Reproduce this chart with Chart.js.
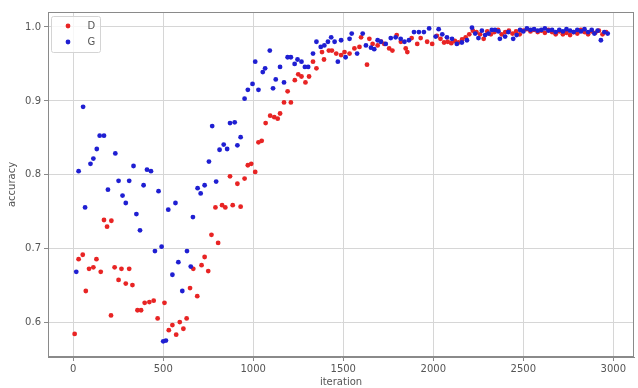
<!DOCTYPE html>
<html>
<head>
<meta charset="utf-8">
<script src="https://cdn.jsdelivr.net/npm/chart.js@4"></script>
<style>
  html, body { margin: 0; padding: 0; background: #fff; }
  #chart { display: block; }
</style>
</head>
<body>
<canvas id="chart" width="638" height="388"></canvas>
<script>
const xTicks = [0, 500, 1000, 1500, 2000, 2500, 3000];
const yTicks = [0.6, 0.7, 0.8, 0.9, 1.0];

// D (red) — iteration / accuracy
const dIter = [8, 30, 53, 70, 88, 112, 129, 153, 171, 188, 210, 212, 230, 252, 268, 292, 311, 329, 357, 377,
  397, 423, 447, 469, 507, 531, 551, 572, 592, 612, 630, 649, 667, 689, 713, 730, 750, 768, 790, 805,
  827, 845, 871, 886, 912, 930, 952, 970, 989, 1011, 1029, 1047, 1069, 1094, 1117, 1136, 1149, 1171, 1191, 1209,
  1231, 1250, 1268, 1290, 1310, 1332, 1351, 1382, 1393, 1420, 1437, 1461, 1488, 1507, 1535, 1562, 1590, 1599, 1632, 1645,
  1663, 1691, 1710, 1728, 1755, 1773, 1797, 1820, 1847, 1856, 1880, 1911, 1930, 1966, 1994, 2020, 2040, 2060, 2080, 2100,
  2120, 2140, 2160, 2180, 2200, 2220, 2240, 2260, 2280, 2300, 2320, 2340, 2360, 2380, 2400, 2420, 2440, 2460, 2480, 2500,
  2520, 2540, 2560, 2580, 2600, 2620, 2640, 2660, 2680, 2700, 2720, 2740, 2760, 2780, 2800, 2820, 2840, 2860, 2880, 2900,
  2920, 2940, 2960];
const dAcc = [0.585, 0.686, 0.692, 0.643, 0.673, 0.675, 0.686, 0.669, 0.739, 0.730, 0.610, 0.738, 0.675, 0.658, 0.673, 0.653, 0.673, 0.651, 0.617, 0.617,
  0.627, 0.628, 0.630, 0.606, 0.627, 0.590, 0.597, 0.584, 0.601, 0.592, 0.606, 0.647, 0.673, 0.636, 0.678, 0.689, 0.670, 0.719, 0.756, 0.708,
  0.759, 0.756, 0.798, 0.759, 0.788, 0.757, 0.795, 0.813, 0.815, 0.804, 0.844, 0.846, 0.870, 0.880, 0.878, 0.876, 0.883, 0.898, 0.913, 0.898,
  0.928, 0.936, 0.933, 0.925, 0.933, 0.953, 0.944, 0.966, 0.956, 0.968, 0.968, 0.964, 0.962, 0.966, 0.964, 0.971, 0.973, 0.986, 0.949, 0.984,
  0.977, 0.975, 0.980, 0.977, 0.971, 0.968, 0.989, 0.980, 0.971, 0.966, 0.985, 0.977, 0.985, 0.980, 0.977, 0.988, 0.984, 0.979, 0.980, 0.978,
  0.981, 0.979, 0.983, 0.986, 0.990, 0.995, 0.993, 0.990, 0.984, 0.994, 0.990, 0.993, 0.996, 0.990, 0.993, 0.995, 0.991, 0.994, 0.990, 0.995,
  0.997, 0.994, 0.996, 0.993, 0.995, 0.992, 0.996, 0.993, 0.990, 0.994, 0.990, 0.992, 0.989, 0.993, 0.991, 0.996, 0.993, 0.990, 0.994, 0.992,
  0.995, 0.990, 0.993];

// G (blue)
const gIter = [17, 30, 55, 66, 96, 112, 131, 147, 171, 193, 234, 252, 274, 292, 311, 335, 351, 371, 391, 410,
  432, 454, 474, 491, 500, 515, 528, 551, 568, 584, 606, 632, 653, 665, 691, 708, 730, 754, 772, 794,
  813, 836, 855, 871, 897, 912, 930, 952, 970, 996, 1011, 1029, 1053, 1066, 1092, 1110, 1125, 1149, 1171, 1191,
  1209, 1230, 1246, 1268, 1287, 1305, 1332, 1351, 1375, 1395, 1415, 1433, 1452, 1470, 1488, 1513, 1535, 1547, 1577, 1608,
  1626, 1654, 1672, 1691, 1709, 1736, 1764, 1791, 1819, 1840, 1865, 1893, 1920, 1948, 1977, 2013, 2030, 2050, 2076, 2104,
  2131, 2159, 2187, 2215, 2233, 2251, 2270, 2288, 2307, 2325, 2343, 2362, 2370, 2399, 2417, 2444, 2463, 2482, 2500, 2520,
  2540, 2560, 2580, 2600, 2620, 2640, 2660, 2680, 2700, 2720, 2740, 2760, 2780, 2800, 2820, 2840, 2860, 2880, 2895, 2913,
  2931, 2950, 2969];
const gAcc = [0.669, 0.805, 0.892, 0.756, 0.815, 0.822, 0.835, 0.853, 0.853, 0.780, 0.829, 0.792, 0.772, 0.762, 0.792, 0.812, 0.747, 0.725, 0.786, 0.807,
  0.805, 0.697, 0.778, 0.703, 0.575, 0.576, 0.753, 0.665, 0.762, 0.682, 0.643, 0.697, 0.676, 0.743, 0.782, 0.775, 0.786, 0.818, 0.866, 0.791,
  0.834, 0.841, 0.835, 0.870, 0.871, 0.840, 0.851, 0.903, 0.915, 0.923, 0.953, 0.915, 0.939, 0.944, 0.968, 0.917, 0.929, 0.946, 0.925, 0.959,
  0.959, 0.950, 0.956, 0.953, 0.946, 0.946, 0.964, 0.980, 0.973, 0.975, 0.980, 0.986, 0.980, 0.953, 0.982, 0.959, 0.984, 0.991, 0.964, 0.991,
  0.975, 0.972, 0.970, 0.982, 0.980, 0.977, 0.985, 0.986, 0.984, 0.980, 0.982, 0.993, 0.993, 0.993, 0.998, 0.987, 0.997, 0.990, 0.986, 0.984,
  0.977, 0.979, 0.982, 0.999, 0.991, 0.985, 0.995, 0.989, 0.991, 0.996, 0.996, 0.994, 0.984, 0.987, 0.993, 0.984, 0.989, 0.996, 0.994, 0.998,
  0.996, 0.997, 0.995, 0.996, 0.998, 0.995, 0.996, 0.993, 0.996, 0.994, 0.997, 0.995, 0.993, 0.996, 0.994, 0.997, 0.993, 0.996, 0.991, 0.995,
  0.982, 0.993, 0.991];

const seriesLabels = ['D', 'G'];
const seriesColors = ['#e82424', '#1f1fd2'];

const toPoints = (xs, ys) => xs.map((x, i) => ({ x, y: ys[i] }));

const FONT = 'DejaVu Sans, Liberation Sans, sans-serif';
const TXT = '#555';

const frameAndLegend = {
  id: 'frameAndLegend',
  afterDatasetsDraw(chart) {
    const { ctx, chartArea: a } = chart;
    ctx.save();
    ctx.strokeStyle = '#8a8a8a';
    ctx.lineWidth = 1;
    ctx.strokeRect(a.left + 0.5, a.top + 0.5, a.right - a.left - 1, a.bottom - a.top - 1);

    // legend box, upper left
    const bx = a.left + 3.5, by = a.top + 4.5, bw = 49, bh = 36;
    ctx.fillStyle = 'rgba(255,255,255,0.8)';
    ctx.strokeStyle = '#d4d4d4';
    ctx.beginPath();
    ctx.roundRect(bx, by, bw, bh, 2);
    ctx.fill();
    ctx.stroke();
    ctx.font = '10px ' + FONT;
    ctx.textBaseline = 'middle';
    chart.data.datasets.forEach((ds, i) => {
      const y = by + 9.5 + i * 16;
      ctx.fillStyle = ds.backgroundColor;
      ctx.beginPath();
      ctx.arc(bx + 16.5, y, 2.4, 0, Math.PI * 2);
      ctx.fill();
      ctx.fillStyle = TXT;
      ctx.textAlign = 'left';
      ctx.fillText(ds.label, bx + 36, y);
    });
    ctx.restore();
  }
};

new Chart(document.getElementById('chart'), {
  type: 'scatter',
  data: {
    datasets: [
      { label: seriesLabels[0], data: toPoints(dIter, dAcc), backgroundColor: seriesColors[0], borderColor: seriesColors[0], pointRadius: 2.4, borderWidth: 0, order: 1 },
      { label: seriesLabels[1], data: toPoints(gIter, gAcc), backgroundColor: seriesColors[1], borderColor: seriesColors[1], pointRadius: 2.4, borderWidth: 0, order: 0 }
    ]
  },
  options: {
    responsive: false,
    animation: false,
    layout: { padding: { top: 12, right: 1, left: 0, bottom: 0 } },
    plugins: { legend: { display: false }, tooltip: { enabled: false } },
    scales: {
      x: {
        type: 'linear', min: -140, max: 3115,
        afterBuildTicks: s => { s.ticks = xTicks.map(v => ({ value: v })); },
        afterFit: s => { s.height = 31; },
        ticks: { font: { family: FONT, size: 10 }, color: TXT, padding: 2, maxRotation: 0, callback: v => String(v) },
        grid: { color: '#d6d6d6', tickLength: 4, tickColor: '#8a8a8a' },
        border: { color: '#8a8a8a' },
        title: { display: true, text: 'iteration', font: { family: FONT, size: 10 }, color: TXT, padding: { top: 0, bottom: 0 } }
      },
      y: {
        type: 'linear', min: 0.5538, max: 1.0202,
        afterBuildTicks: s => { s.ticks = yTicks.map(v => ({ value: v })); },
        afterFit: s => { s.width = 48; },
        ticks: { font: { family: FONT, size: 10 }, color: TXT, padding: 3, callback: v => v.toFixed(1) },
        grid: { color: '#d6d6d6', tickLength: 4, tickColor: '#8a8a8a' },
        border: { color: '#8a8a8a' },
        title: { display: true, text: 'accuracy', font: { family: FONT, size: 10 }, color: TXT, padding: { top: 6, bottom: 0 } }
      }
    }
  },
  plugins: [frameAndLegend]
});
</script>
</body>
</html>
